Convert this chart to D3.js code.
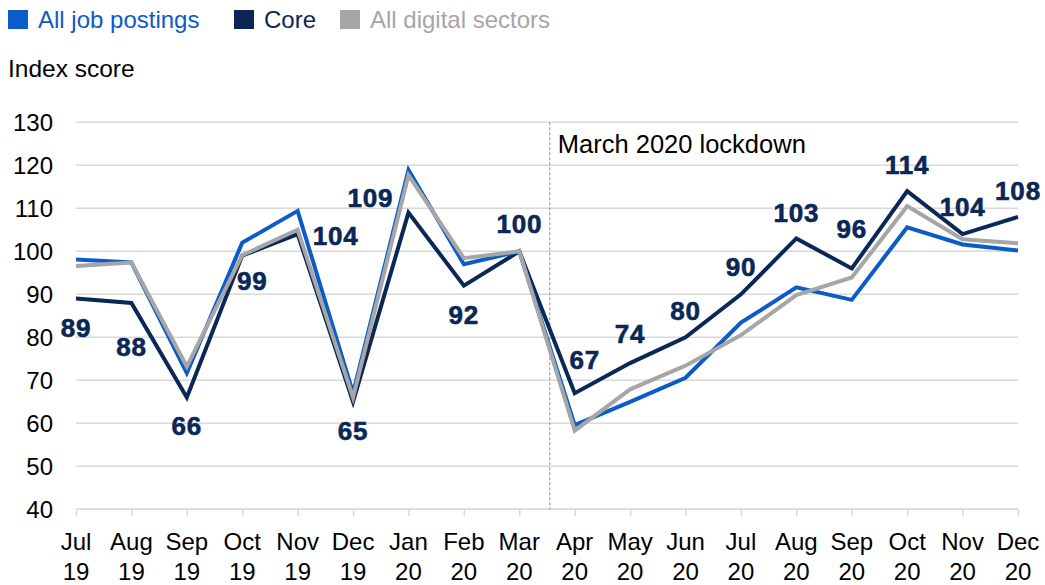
<!DOCTYPE html>
<html>
<head>
<meta charset="utf-8">
<script src="https://cdn.jsdelivr.net/npm/d3@7"></script>
<style>
  html, body { margin: 0; padding: 0; background: #fff; }
  svg { display: block; font-family: "Liberation Sans", Arial, sans-serif; }
</style>
</head>
<body>
<svg id="chart" width="1045" height="585"></svg>
<script>
// Monthly index scores (March 2020 = 100)
const months = ["Jul", "Aug", "Sep", "Oct", "Nov", "Dec", "Jan", "Feb", "Mar",
                "Apr", "May", "Jun", "Jul", "Aug", "Sep", "Oct", "Nov", "Dec"];
const years = ["19", "19", "19", "19", "19", "19", "20", "20", "20",
               "20", "20", "20", "20", "20", "20", "20", "20", "20"];

const allJobPostings = [98.1, 97.4, 71.7, 102, 109.4, 67, 118.9, 97, 100,
                        59.6, 65, 70.6, 83.4, 91.6, 88.7, 105.6, 101.6, 100.2];
const core = [89, 88, 66, 99, 104, 65, 109, 92, 100,
              67, 74, 80, 90, 103, 96, 114, 104, 108];
const allDigital = [96.6, 97.4, 73.2, 99.1, 105, 66, 117.7, 98.4, 100,
                    58.3, 67.9, 73.4, 80.5, 89.8, 93.9, 110.5, 102.8, 101.9];

const yTicks = [40, 50, 60, 70, 80, 90, 100, 110, 120, 130];
const lockdownAt = 8.55;          // between Mar 20 and Apr 20
const lockdownText = "March 2020 lockdown";

// Label placement for the Core values: offset of the label centre from its point
const coreLabelNudge = [[0, 29], [0, 44], [0, 28], [10, 25], [38, 1], [0, 29], [-38, -15], [0, 29], [0, -28],
                        [10, -34], [0, -30], [0, -27], [0, -28], [0, -26], [0, -40], [0, -27], [0, -28], [0, -26]];

const colors = { jobs: "#0b5bc9", core: "#0a2756", digital: "#a6a6a6" };

const series = [
  { key: "core", name: "Core", values: core, color: colors.core },
  { key: "jobs", name: "All job postings", values: allJobPostings, color: colors.jobs },
  { key: "digital", name: "All digital sectors", values: allDigital, color: colors.digital }
];

const svg = d3.select("#chart");
const idx = d3.range(months.length);

const x = d3.scaleLinear().domain([0, months.length - 1]).range([76, 1018]);
const y = d3.scaleLinear().domain([40, 130]).range([509.3, 122.3]);

// Horizontal gridlines
svg.append("g")
  .selectAll("line")
  .data(yTicks)
  .join("line")
  .attr("x1", x(0)).attr("x2", x(months.length - 1))
  .attr("y1", d => y(d)).attr("y2", d => y(d))
  .attr("stroke", "#d9d9d9")
  .attr("stroke-width", 1.5);

// Y axis labels
const yAxis = d3.axisLeft(y).tickValues(yTicks).tickSize(0).tickPadding(0);
svg.append("g")
  .attr("transform", `translate(53,0)`)
  .call(yAxis)
  .call(g => g.select(".domain").remove())
  .call(g => g.selectAll("text")
    .attr("font-size", 24)
    .attr("fill", "#000")
    .attr("font-family", "Liberation Sans, Arial, sans-serif")
    .attr("dy", "0.34em"));

// X axis: tick marks and two-line labels
const xAxis = d3.axisBottom(x).tickValues(idx).tickSize(7).tickFormat("");
svg.append("g")
  .attr("transform", `translate(0,${y(40)})`)
  .call(xAxis)
  .call(g => g.select(".domain").attr("stroke", "#d9d9d9").attr("stroke-width", 1.5)
    .attr("d", `M${x(0)},0H${x(months.length - 1)}`))
  .call(g => g.selectAll(".tick line").attr("stroke", "#d9d9d9").attr("stroke-width", 1.5));

const xl = svg.append("g").selectAll("text")
  .data(idx)
  .join("text")
  .attr("x", i => x(i))
  .attr("text-anchor", "middle")
  .attr("font-size", 24)
  .attr("fill", "#000");
xl.append("tspan").attr("x", i => x(i)).attr("y", 550).text(i => months[i]);
xl.append("tspan").attr("x", i => x(i)).attr("y", 580).text(i => years[i]);

// Lockdown marker
svg.append("line")
  .attr("x1", x(lockdownAt)).attr("x2", x(lockdownAt))
  .attr("y1", y(130)).attr("y2", y(40))
  .attr("stroke", "#8c8c8c")
  .attr("stroke-width", 1)
  .attr("stroke-dasharray", "3,2");
svg.append("text")
  .attr("x", x(lockdownAt) + 8)
  .attr("y", 152.6)
  .attr("font-size", 25.5)
  .attr("fill", "#000")
  .text(lockdownText);

// Lines
const line = d3.line().x((d, i) => x(i)).y(d => y(d));
svg.append("g")
  .selectAll("path")
  .data(series)
  .join("path")
  .attr("d", s => line(s.values))
  .attr("fill", "none")
  .attr("stroke", s => s.color)
  .attr("stroke-width", 4)
  .attr("stroke-linejoin", "miter");

// Core value labels
svg.append("g")
  .selectAll("text")
  .data(core)
  .join("text")
  .attr("x", (d, i) => x(i) + coreLabelNudge[i][0])
  .attr("y", (d, i) => y(d) + coreLabelNudge[i][1] + 9.5)
  .attr("text-anchor", "middle")
  .attr("font-size", 26)
  .attr("font-weight", "bold")
  .attr("letter-spacing", 0.8)
  .attr("fill", colors.core)
  .attr("stroke", colors.core)
  .attr("stroke-width", 0.6)
  .text(d => d);

// Legend
const legendItems = [
  { name: "All job postings", color: colors.jobs, x: 8 },
  { name: "Core", color: colors.core, x: 234 },
  { name: "All digital sectors", color: colors.digital, x: 340 }
];
const lg = svg.append("g").selectAll("g")
  .data(legendItems)
  .join("g")
  .attr("transform", d => `translate(${d.x},0)`);
lg.append("rect")
  .attr("x", 0).attr("y", 10)
  .attr("width", 20).attr("height", 19)
  .attr("fill", d => d.color);
lg.append("text")
  .attr("x", 30).attr("y", 27.7)
  .attr("font-size", 24)
  .attr("fill", d => d.color)
  .text(d => d.name);

// Axis title
svg.append("text")
  .attr("x", 8).attr("y", 77.3)
  .attr("font-size", 24.5)
  .attr("fill", "#000")
  .text("Index score");
</script>
</body>
</html>
